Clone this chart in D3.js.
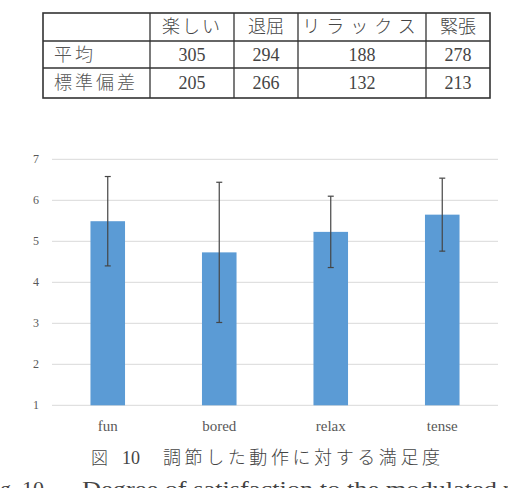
<!DOCTYPE html>
<html>
<head>
<meta charset="utf-8">
<script src="https://cdn.jsdelivr.net/npm/d3@7"></script>
<style>
  body { margin: 0; background: #fff; }
  svg { display: block; }
</style>
</head>
<body>
<svg id="fig" width="508" height="488"></svg>
<script>
// datos de la tabla
const tablaColumnas = ["楽しい", "退屈", "リラックス", "緊張"];
const tablaFilas = ["平均", "標準偏差"];
const tablaPromedio = [305, 294, 188, 278];
const tablaDesv = [205, 266, 132, 213];

// datos del grafico
const categorias = ["fun", "bored", "relax", "tense"];
const medias = [5.49, 4.73, 5.23, 5.65];
const desviaciones = [1.09, 1.71, 0.87, 0.89];
const ticksY = [1, 2, 3, 4, 5, 6, 7];

const svg = d3.select("#fig");
const fuenteJP = "'Noto Sans CJK JP', sans-serif";
const serif = "'Liberation Serif', 'DejaVu Serif', serif";

// ---- tabla ----
const colX = [43, 150, 234, 298, 426, 490];
const rowY = [13, 41, 68, 98];
const tabla = svg.append("g");

tabla.append("rect")
    .attr("x", colX[0]).attr("y", rowY[0])
    .attr("width", colX[5] - colX[0]).attr("height", rowY[3] - rowY[0])
    .attr("fill", "none").attr("stroke", "#333").attr("stroke-width", 1.6);

colX.slice(1, 5).forEach(x => {
    tabla.append("line").attr("x1", x).attr("x2", x)
        .attr("y1", rowY[0]).attr("y2", rowY[3])
        .attr("stroke", "#333").attr("stroke-width", 1.3);
});
rowY.slice(1, 3).forEach(y => {
    tabla.append("line").attr("x1", colX[0]).attr("x2", colX[5])
        .attr("y1", y).attr("y2", y)
        .attr("stroke", "#333").attr("stroke-width", 1.3);
});

// encabezados
const espaciado = [2, 0, 6, 0];
tablaColumnas.forEach((c, i) => {
    tabla.append("text")
        .attr("x", (colX[i + 1] + colX[i + 2]) / 2)
        .attr("y", (rowY[0] + rowY[1]) / 2 + 6)
        .attr("text-anchor", "middle")
        .style("font-family", fuenteJP)
        .style("font-size", "18px")
        .style("font-weight", 300)
        .style("letter-spacing", espaciado[i] + "px")
        .style("fill", "#444")
        .text(c);
});

// filas
[tablaPromedio, tablaDesv].forEach((fila, r) => {
    const yc = (rowY[r + 1] + rowY[r + 2]) / 2 + 6;
    tabla.append("text")
        .attr("x", 54).attr("y", yc)
        .style("font-family", fuenteJP)
        .style("font-size", "18px")
        .style("font-weight", 300)
        .style("letter-spacing", "3px")
        .style("fill", "#555")
        .text(tablaFilas[r]);
    fila.forEach((v, i) => {
        tabla.append("text")
            .attr("x", (colX[i + 1] + colX[i + 2]) / 2)
            .attr("y", yc)
            .attr("text-anchor", "middle")
            .style("font-family", serif)
            .style("font-size", "18px")
            .style("fill", "#444")
            .text(v);
    });
});

// ---- grafico de barras ----
const x = d3.scaleBand()
    .domain(categorias)
    .range([52, 498])
    .paddingInner(0.69)
    .paddingOuter(0.345);

const y = d3.scaleLinear()
    .domain([1, 7])
    .range([405.3, 159.3]);

const g = svg.append("g");

// grilla
g.selectAll("line.grid")
    .data(ticksY)
    .enter()
    .append("line")
    .attr("class", "grid")
    .attr("x1", 52).attr("x2", 498)
    .attr("y1", d => y(d)).attr("y2", d => y(d))
    .attr("stroke", "#d9d9d9").attr("stroke-width", 1);

// etiquetas eje y
g.selectAll("text.ytick")
    .data(ticksY)
    .enter()
    .append("text")
    .attr("class", "ytick")
    .attr("x", 39)
    .attr("y", d => y(d) + 4)
    .attr("text-anchor", "end")
    .style("font-family", serif)
    .style("font-size", "12px")
    .style("fill", "#595959")
    .text(d => d);

// barras
g.selectAll("rect.bar")
    .data(categorias)
    .enter()
    .append("rect")
    .attr("class", "bar")
    .attr("x", d => x(d))
    .attr("width", x.bandwidth())
    .attr("y", (d, i) => y(medias[i]))
    .attr("height", (d, i) => y(1) - y(medias[i]))
    .attr("fill", "#5b9bd5");

// barras de error
const err = g.selectAll("g.err")
    .data(categorias)
    .enter()
    .append("g")
    .attr("class", "err")
    .attr("stroke", "#454545")
    .attr("stroke-width", 1.2);

err.append("line")
    .attr("x1", d => x(d) + x.bandwidth() / 2)
    .attr("x2", d => x(d) + x.bandwidth() / 2)
    .attr("y1", (d, i) => y(medias[i] + desviaciones[i]))
    .attr("y2", (d, i) => y(medias[i] - desviaciones[i]));

[1, -1].forEach(s => {
    err.append("line")
        .attr("x1", d => x(d) + x.bandwidth() / 2 - 3)
        .attr("x2", d => x(d) + x.bandwidth() / 2 + 3)
        .attr("y1", (d, i) => y(medias[i] + s * desviaciones[i]))
        .attr("y2", (d, i) => y(medias[i] + s * desviaciones[i]));
});

// etiquetas eje x
g.selectAll("text.xtick")
    .data(categorias)
    .enter()
    .append("text")
    .attr("class", "xtick")
    .attr("x", d => x(d) + x.bandwidth() / 2)
    .attr("y", 431)
    .attr("text-anchor", "middle")
    .style("font-family", serif)
    .style("font-size", "15px")
    .style("fill", "#595959")
    .text(d => d);

// ---- leyenda de la figura ----
const leyenda = svg.append("g").style("fill", "#444");

leyenda.append("text")
    .attr("x", 91).attr("y", 464)
    .style("font-family", fuenteJP)
    .style("font-size", "17px")
    .style("font-weight", 300)
    .text("図");

leyenda.append("text")
    .attr("x", 122).attr("y", 464)
    .style("font-family", serif)
    .style("font-size", "18px")
    .text("10");

leyenda.append("text")
    .attr("x", 163).attr("y", 464)
    .attr("textLength", 277)
    .style("font-family", fuenteJP)
    .style("font-size", "18px")
    .style("font-weight", 300)
    .text("調節した動作に対する満足度");

leyenda.append("text")
    .attr("x", 44).attr("y", 495.5)
    .attr("text-anchor", "end")
    .style("font-family", serif)
    .style("font-size", "22px")
    .text("Fig. 10");

leyenda.append("text")
    .attr("x", 82).attr("y", 495.5)
    .attr("textLength", 415)
    .attr("lengthAdjust", "spacingAndGlyphs")
    .style("font-family", serif)
    .style("font-size", "22px")
    .text("Degree of satisfaction to the modulated");

leyenda.append("text")
    .attr("x", 503).attr("y", 495.5)
    .style("font-family", serif)
    .style("font-size", "22px")
    .text("motion");
</script>
</body>
</html>
